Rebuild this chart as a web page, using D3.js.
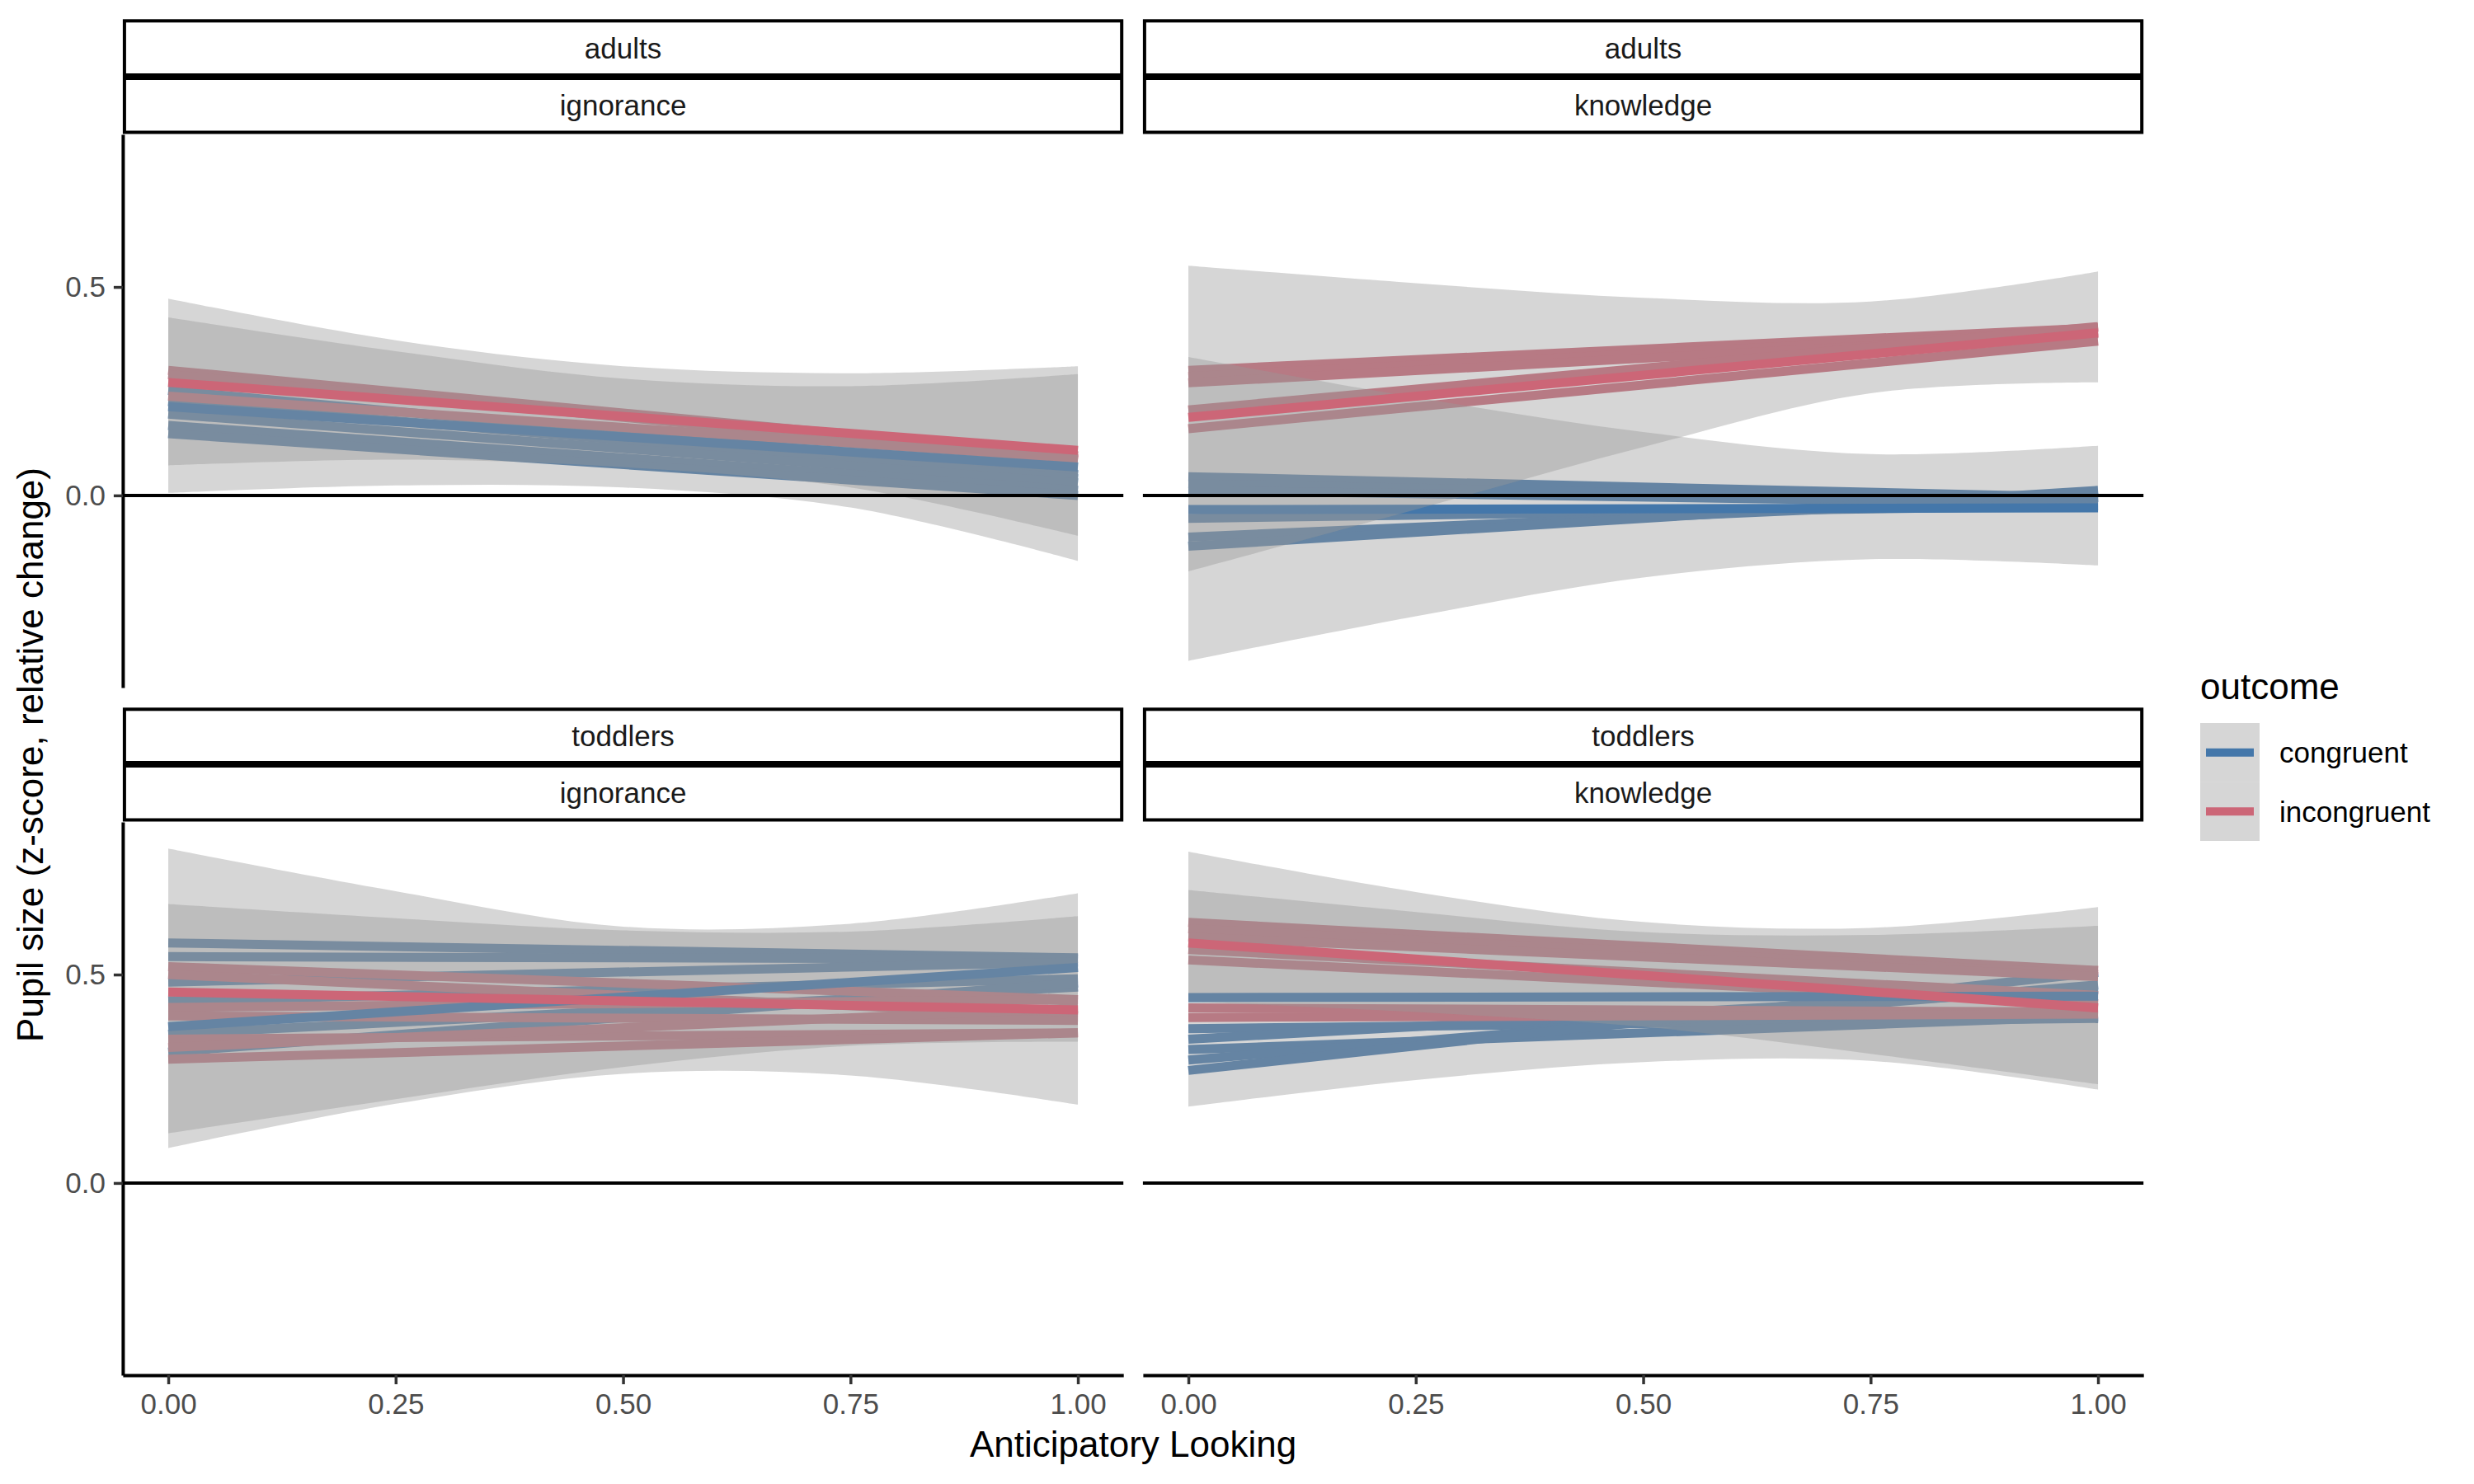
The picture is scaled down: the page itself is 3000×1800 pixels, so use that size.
<!DOCTYPE html>
<html>
<head>
<meta charset="utf-8">
<script src="https://cdn.jsdelivr.net/npm/d3@7"></script>
<style>
  body { margin: 0; background: #fff; }
  svg { display: block; }
  text { font-family: "Liberation Sans", Arial, Helvetica, sans-serif; }
</style>
</head>
<body>
<svg id="chart" width="3000" height="1800"></svg>
<script>
// ---- data ----
const outcomes = ["congruent", "incongruent"];
const outcomeColors = ["#4477AA", "#CC6677"];
const xTicks = [0, 0.25, 0.5, 0.75, 1];
const yTicks = [0, 0.5];
const bandX = [0, 0.25, 0.5, 0.75, 1];   // x where ribbon bounds were read

// adults / ignorance
const adIgnCongLo = [0.006, 0.024, 0.019, -0.029, -0.157];
const adIgnCongHi = [0.472, 0.372, 0.310, 0.293, 0.310];
const adIgnIncoLo = [0.072, 0.086, 0.068, 0.019, -0.097];
const adIgnIncoHi = [0.427, 0.346, 0.280, 0.262, 0.291];
const adIgnCongMean = [0.213, 0.068];
const adIgnIncoMean = [0.271, 0.108];
const adIgnCongLines = [[0.252, 0.05], [0.225, 0.04], [0.195, 0.03], [0.168, 0.012], [0.148, 0.0]];
const adIgnIncoLines = [[0.30, 0.095], [0.29, 0.085], [0.238, 0.088]];

// adults / knowledge
const adKnoCongLo = [-0.397, -0.29, -0.197, -0.153, -0.168];
const adKnoCongHi = [0.332, 0.235, 0.152, 0.099, 0.119];
const adKnoIncoLo = [-0.182, -0.034, 0.116, 0.245, 0.271];
const adKnoIncoHi = [0.551, 0.509, 0.474, 0.465, 0.537];
const adKnoCongMean = [-0.034, -0.03];
const adKnoIncoMean = [0.187, 0.39];
const adKnoCongLines = [[0.045, -0.005], [0.028, -0.015], [0.012, -0.02], [-0.055, -0.025], [-0.10, -0.005], [-0.122, 0.012]];
const adKnoIncoLines = [[0.30, 0.402], [0.285, 0.395], [0.27, 0.388], [0.205, 0.405], [0.16, 0.37]];

// toddlers / ignorance
const tdIgnCongLo = [0.119, 0.201, 0.278, 0.329, 0.339];
const tdIgnCongHi = [0.669, 0.635, 0.606, 0.603, 0.640];
const tdIgnIncoLo = [0.084, 0.19, 0.262, 0.258, 0.188];
const tdIgnIncoHi = [0.802, 0.70, 0.615, 0.622, 0.695];
const tdIgnCongMean = [0.375, 0.517];
const tdIgnIncoMean = [0.458, 0.415];
const tdIgnCongLines = [[0.576, 0.54], [0.543, 0.537], [0.482, 0.53], [0.437, 0.49], [0.357, 0.47], [0.314, 0.48]];
const tdIgnIncoLines = [[0.519, 0.44], [0.50, 0.40], [0.421, 0.44], [0.401, 0.39], [0.345, 0.36], [0.325, 0.42], [0.297, 0.36]];

// toddlers / knowledge
const tdKnoCongLo = [0.183, 0.247, 0.29, 0.293, 0.224];
const tdKnoCongHi = [0.795, 0.698, 0.626, 0.612, 0.662];
const tdKnoIncoLo = [0.435, 0.41, 0.375, 0.31, 0.237];
const tdKnoIncoHi = [0.703, 0.65, 0.602, 0.595, 0.617];
const tdKnoCongMean = [0.445, 0.448];
const tdKnoIncoMean = [0.576, 0.42];
const tdKnoCongLines = [[0.37, 0.395], [0.345, 0.465], [0.32, 0.40], [0.295, 0.475], [0.27, 0.505]];
const tdKnoIncoLines = [[0.625, 0.51], [0.61, 0.50], [0.59, 0.495], [0.56, 0.45], [0.535, 0.43], [0.42, 0.41], [0.397, 0.405]];

// ---- layout ----
const svg = d3.select("#chart");
const colX = [[148.9, 1362.2], [1385.9, 2599.2]];
const rowY = [[163, 834], [997, 1668]];
const stripY = [[23.3, 93, 162.5], [858.3, 927, 996.5]];
const xDomain = [-0.05, 1.05];
const yDomain = [-0.461, 0.866];
const lineW = 11;

const panels = [
  {strip: ["adults", "ignorance"], col: 0, row: 0,
   ribbons: [[adIgnCongLo, adIgnCongHi], [adIgnIncoLo, adIgnIncoHi]],
   means: [adIgnCongMean, adIgnIncoMean], lines: [adIgnCongLines, adIgnIncoLines]},
  {strip: ["adults", "knowledge"], col: 1, row: 0,
   ribbons: [[adKnoCongLo, adKnoCongHi], [adKnoIncoLo, adKnoIncoHi]],
   means: [adKnoCongMean, adKnoIncoMean], lines: [adKnoCongLines, adKnoIncoLines]},
  {strip: ["toddlers", "ignorance"], col: 0, row: 1,
   ribbons: [[tdIgnCongLo, tdIgnCongHi], [tdIgnIncoLo, tdIgnIncoHi]],
   means: [tdIgnCongMean, tdIgnIncoMean], lines: [tdIgnCongLines, tdIgnIncoLines]},
  {strip: ["toddlers", "knowledge"], col: 1, row: 1,
   ribbons: [[tdKnoCongLo, tdKnoCongHi], [tdKnoIncoLo, tdKnoIncoHi]],
   means: [tdKnoCongMean, tdKnoIncoMean], lines: [tdKnoCongLines, tdKnoIncoLines]}
];

panels.forEach(p => {
  const x = d3.scaleLinear().domain(xDomain).range(colX[p.col]);
  const y = d3.scaleLinear().domain(yDomain).range([rowY[p.row][1], rowY[p.row][0]]);
  const g = svg.append("g");

  // per-group fits, drawn first so the ribbons sit over them
  p.lines.forEach((set, k) => {
    g.selectAll(null).data(set).join("line")
      .attr("x1", x(0)).attr("x2", x(1))
      .attr("y1", d => y(d[0])).attr("y2", d => y(d[1]))
      .attr("stroke", outcomeColors[k]).attr("stroke-width", lineW);
  });

  // ribbon + mean line per outcome (same order ggplot draws groups)
  p.ribbons.forEach((rb, k) => {
    const area = d3.area()
      .x((d, i) => x(bandX[i]))
      .y0((d, i) => y(rb[0][i]))
      .y1((d, i) => y(rb[1][i]))
      .curve(d3.curveCatmullRom.alpha(0.5));
    g.append("path").attr("d", area(bandX))
      .attr("fill", "#999999").attr("fill-opacity", 0.4);
    g.append("line")
      .attr("x1", x(0)).attr("x2", x(1))
      .attr("y1", y(p.means[k][0])).attr("y2", y(p.means[k][1]))
      .attr("stroke", outcomeColors[k]).attr("stroke-width", lineW);
  });

  // zero reference line
  g.append("line")
    .attr("x1", colX[p.col][0]).attr("x2", colX[p.col][1])
    .attr("y1", y(0)).attr("y2", y(0))
    .attr("stroke", "#000").attr("stroke-width", 4);

  // strips
  const sy = stripY[p.row];
  p.strip.forEach((lab, s) => {
    g.append("rect")
      .attr("x", colX[p.col][0] + 2).attr("y", sy[s] + 2)
      .attr("width", colX[p.col][1] - colX[p.col][0] - 4)
      .attr("height", sy[s + 1] - sy[s] - 4)
      .attr("fill", "#fff").attr("stroke", "#000").attr("stroke-width", 4);
    g.append("text")
      .attr("x", (colX[p.col][0] + colX[p.col][1]) / 2)
      .attr("y", (sy[s] + sy[s + 1]) / 2)
      .attr("text-anchor", "middle").attr("dominant-baseline", "central")
      .attr("font-size", 35).attr("fill", "#1A1A1A")
      .text(lab);
  });

  // axes (left column gets y, bottom row gets x)
  if (p.col === 0) {
    const ax = g.append("g").attr("transform", `translate(${colX[0][0]},0)`)
      .call(d3.axisLeft(y).tickValues(yTicks).tickFormat(d3.format(".1f"))
        .tickSize(11).tickSizeOuter(0).tickPadding(10));
    styleAxis(ax);
  }
  if (p.row === 1) {
    const ax = g.append("g").attr("transform", `translate(0,${rowY[1][1]})`)
      .call(d3.axisBottom(x).tickValues(xTicks).tickFormat(d3.format(".2f"))
        .tickSize(11).tickSizeOuter(0).tickPadding(11));
    styleAxis(ax);
  }
});

function styleAxis(ax) {
  ax.select(".domain").attr("stroke", "#000").attr("stroke-width", 4);
  ax.selectAll(".tick line").attr("stroke", "#333333").attr("stroke-width", 3.5);
  ax.selectAll(".tick text").attr("fill", "#4D4D4D").attr("font-size", 35)
    .attr("font-family", "Liberation Sans, Arial, Helvetica, sans-serif");
}

// axis titles
svg.append("text")
  .attr("x", (colX[0][0] + colX[1][1]) / 2).attr("y", 1767)
  .attr("text-anchor", "middle").attr("font-size", 44).attr("fill", "#000")
  .text("Anticipatory Looking");
svg.append("text")
  .attr("transform", `translate(52,${(rowY[0][0] + rowY[1][1]) / 2}) rotate(-90)`)
  .attr("text-anchor", "middle").attr("font-size", 44).attr("fill", "#000")
  .text("Pupil size (z-score, relative change)");

// legend
const leg = svg.append("g").attr("transform", "translate(2668,848)");
leg.append("text").attr("x", 0).attr("y", 0)
  .attr("font-size", 44).attr("fill", "#000").text("outcome");
outcomes.forEach((o, k) => {
  const ky = 29 + k * 71.5;
  leg.append("rect").attr("x", 0).attr("y", ky).attr("width", 72).attr("height", 71.5)
    .attr("fill", "#999999").attr("fill-opacity", 0.4);
  leg.append("line").attr("x1", 7).attr("x2", 65)
    .attr("y1", ky + 35.75).attr("y2", ky + 35.75)
    .attr("stroke", outcomeColors[k]).attr("stroke-width", 10);
  leg.append("text").attr("x", 96).attr("y", ky + 35.75)
    .attr("dominant-baseline", "central").attr("font-size", 35).attr("fill", "#000")
    .text(o);
});
</script>
</body>
</html>
